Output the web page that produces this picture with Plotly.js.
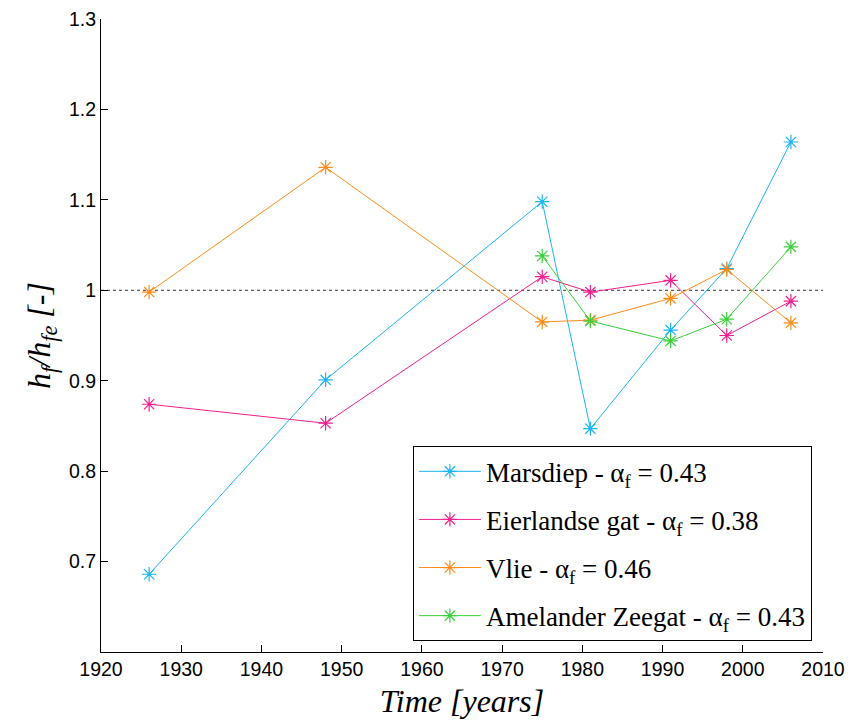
<!DOCTYPE html>
<html><head><meta charset="utf-8">
<script src="https://cdn.plot.ly/plotly-3.0.1.min.js"></script>
<style>body{margin:0;background:#fff}#c{width:849px;height:725px}</style>
</head><body><div id="c"></div>
<script>
const years = [1926, 1948, 1975, 1981, 1991, 1998, 2006];
const yearsAZ = [1975, 1981, 1991, 1998, 2006];
const marsdiep = [0.686, 0.901, 1.098, 0.847, 0.956, 1.024, 1.164];
const eierlandse = [0.874, 0.853, 1.015, 0.998, 1.011, 0.950, 0.988];
const vlie = [0.998, 1.136, 0.965, 0.967, 0.991, 1.023, 0.964];
const amelander = [1.038, 0.966, 0.944, 0.968, 1.048];
const names = ["Marsdiep - α<sub>f</sub> = 0.43", "Eierlandse gat - α<sub>f</sub> = 0.38", "Vlie - α<sub>f</sub> = 0.46", "Amelander Zeegat - α<sub>f</sub> = 0.43"];
const colors = ["#1cb4f2", "#f0218c", "#ff8c1a", "#3ccf3c"];
const refX = [1920, 2010];
const refY = [1, 1];

function tr(x, y, i) {
  return {x: x, y: y, name: names[i], type: 'scatter', mode: 'lines+markers',
    legendgroup: 'g' + i,
    line: {color: colors[i], width: 1},
    marker: {symbol: 'asterisk-open', size: 12, color: colors[i], line: {color: colors[i], width: 1.2}}};
}
const data = [
  {x: refX, y: refY, mode: 'lines', showlegend: false, hoverinfo: 'skip', line: {color: '#333', width: 1, dash: 'dot'}},
  tr(years, marsdiep, 0), tr(years, eierlandse, 1), tr(years, vlie, 2), tr(yearsAZ, amelander, 3)
];
const layout = {
  width: 849, height: 725,
  margin: {l: 101, r: 26, t: 19, b: 73},
  paper_bgcolor: '#fff', plot_bgcolor: '#fff',
  showlegend: true,
  legend: {x: 0.432, y: 0.325, xanchor: 'left', yanchor: 'top', bordercolor: '#000', borderwidth: 1,
    bgcolor: '#fff', font: {family: 'Liberation Serif', size: 27, color: '#000'}, tracegroupgap: 10, itemwidth: 62},
  xaxis: {range: [1920, 2010], tickvals: [1920,1930,1940,1950,1960,1970,1980,1990,2000,2010],
    ticks: 'inside', ticklen: 7, tickcolor: '#000', showline: true, linecolor: '#000', linewidth: 1,
    showgrid: false, zeroline: false, tickfont: {family: 'Liberation Sans', size: 19.5, color: '#000'},
    title: {text: '<i>Time [years]</i>', font: {family: 'Liberation Serif', size: 32, color: '#000'}, standoff: 10}},
  yaxis: {range: [0.6, 1.3], tickvals: [0.7,0.8,0.9,1,1.1,1.2,1.3], ticktext: ['0.7','0.8','0.9','1','1.1','1.2','1.3'],
    ticks: 'inside', ticklen: 7, tickcolor: '#000', showline: true, linecolor: '#000', linewidth: 1,
    showgrid: false, zeroline: false, tickfont: {family: 'Liberation Sans', size: 19.5, color: '#000'},
    title: {text: '<i>h<sub>f</sub>/h<sub>fe</sub> [-]</i>', font: {family: 'Liberation Serif', size: 32, color: '#000'}, standoff: 8}}
};
Plotly.newPlot('c', data, layout, {displayModeBar: false, staticPlot: true});
</script></body></html>
